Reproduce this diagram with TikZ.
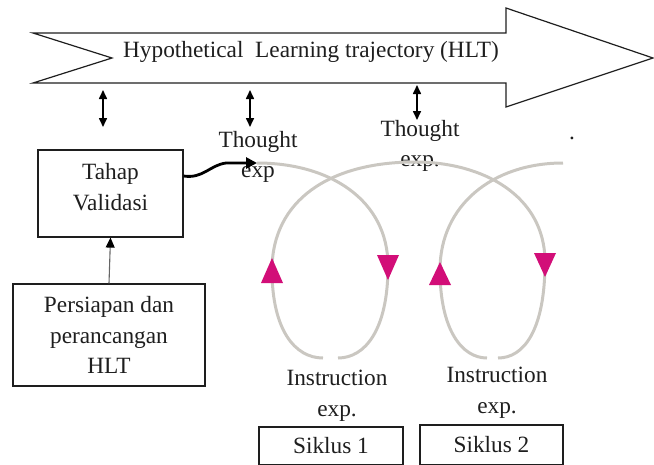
\documentclass[tikz,border=0pt]{standalone}
\usepackage{fontspec}
\setmainfont{Liberation Serif}
\usetikzlibrary{arrows.meta}
\definecolor{loopgray}{RGB}{202,199,193}
\definecolor{mag}{RGB}{210,14,120}
\definecolor{ink}{RGB}{30,30,30}
\begin{document}
\begin{tikzpicture}[x=1pt,y=-1pt,
  font=\fontsize{23.3}{30.5}\selectfont,
  box/.style={draw=ink, line width=1.2pt, inner sep=0pt, align=center, text=ink},
  lbl/.style={align=center, text=ink, inner sep=0pt},
  dbl/.style={{Triangle[width=8pt,length=9pt]}-{Triangle[width=8pt,length=9pt]}, line width=1.6pt, draw=black},
  loopline/.style={draw=loopgray, line width=3pt},
  tri/.style={fill=mag}]
\useasboundingbox (0,0) rectangle (654,464);
\clip (0,0) rectangle (654,464);
% big arrow
\draw[ink, line width=1.2pt] (33,33) -- (506,33) -- (506,8) -- (653,58) -- (506,107) -- (506,83) -- (33,83) -- (112,58) -- cycle;
\node[lbl] (hlt) at (311,52) {Hypothetical~ Learning trajectory (HLT)};
% double arrows
\coordinate (d1a) at (103,90); \coordinate (d1b) at (103,127);
\coordinate (d2a) at (250,90); \coordinate (d2b) at (250,127);
\coordinate (d3a) at (417,85); \coordinate (d3b) at (417,120);
\draw[dbl] (d1a) -- (d1b);
\draw[dbl] (d2a) -- (d2b);
\draw[dbl] (d3a) -- (d3b);
% boxes
\node[box, minimum width=145pt, minimum height=87pt,
  label={[lbl, yshift=6.5pt]center:Tahap\\Validasi}] (tahap) at (110.5,193.5) {};
\node[box, minimum width=192pt, minimum height=102pt] (prep) at (109,335) {Persiapan dan\\perancangan\\HLT};
\draw[draw=black!60, line width=1.1pt, -{Triangle[width=9pt,length=10pt,color=black]}] (prep.north) -- (tahap.south);
% thought labels
\node[lbl] (th1) at (258,157) {Thought\\exp};
\node[lbl] (th2) at (420,146) {Thought\\exp.};
\node[lbl] (dot) at (572,138) {.};
% loops
\coordinate (a1) at (257,163);
\draw[loopline] (a1) .. controls (330,163) and (388,200) .. (388,266) .. controls (388,330) and (365,358) .. (338,358);
\draw[loopline] (323,358) .. controls (295,358) and (272,330) .. (272,270) .. controls (272,200) and (330,162) .. (415,162) .. controls (482,162) and (545,195) .. (545,262) .. controls (545,330) and (524,358) .. (498,358);
\draw[loopline] (487,358) .. controls (462,358) and (440,330) .. (440,270) .. controls (440,205) and (493,163) .. (563,163);
% magenta triangles
\fill[tri] (261,283) -- (283,283) -- (272,258) -- cycle;
\fill[tri] (377,255) -- (399,255) -- (388,280) -- cycle;
\fill[tri] (429,285) -- (451,285) -- (440,262) -- cycle;
\fill[tri] (534,253) -- (556,253) -- (545,277) -- cycle;
% thick connector
\draw[line width=2.8pt, -{Triangle[width=11pt,length=11pt]}] (tahap.east |- 0,176) .. controls (203,179) and (210,165) .. (226,163) -- (a1);
% instruction labels
\node[lbl] (ins1) at (337,396) {Instruction\\exp.};
\node[lbl] (ins2) at (497,393) {Instruction\\exp.};
\node[box, minimum width=144pt, minimum height=38pt] (s1) at (331,446) {Siklus 1};
\node[box, minimum width=143pt, minimum height=40pt] (s2) at (491.5,445) {Siklus 2};
\end{tikzpicture}
\end{document}
